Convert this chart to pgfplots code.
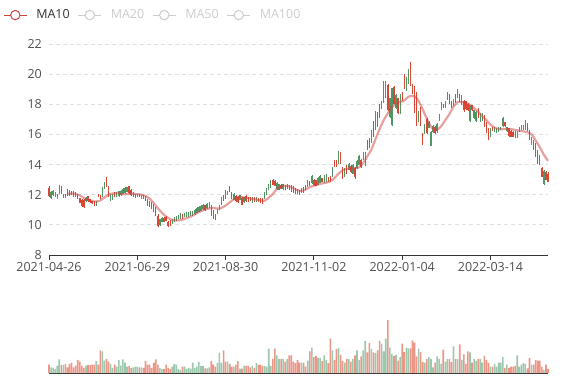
\documentclass[border=0pt]{standalone}
\usepackage{pgfplots}
\usepackage{pgfplotstable}
\pgfplotsset{compat=1.18}
\usepackage{fontspec}
\setmainfont{Open Sans}
\definecolor{upc}{RGB}{218,70,52}
\definecolor{dnc}{RGB}{80,150,100}
\definecolor{vupc}{RGB}{236,150,136}
\definecolor{vdnc}{RGB}{158,200,174}
\definecolor{mac}{RGB}{205,65,65}
\definecolor{gridc}{RGB}{224,224,224}
\definecolor{axisc}{RGB}{51,51,51}
\definecolor{labc}{RGB}{80,80,80}
\definecolor{offc}{RGB}{204,204,204}
\pgfplotstableread{
i o c l h v
0 11.90 12.45 11.82 12.55 25
1 12.20 11.78 11.70 12.26 17
2 12.25 11.97 11.92 12.31 15
3 12.12 11.90 11.85 12.18 12
4 12.00 11.75 11.70 12.05 22
5 12.55 12.10 12.05 12.62 40
6 12.10 12.50 12.05 12.60 24
7 12.00 11.85 11.80 12.05 24
8 11.82 12.00 11.78 12.05 27
9 11.95 12.30 11.90 12.35 17
10 11.95 12.25 11.92 12.30 27
11 11.98 12.22 11.95 12.26 31
12 11.92 12.20 11.88 12.25 17
13 11.85 12.15 11.82 12.18 22
14 11.75 11.98 11.72 12.03 39
15 11.45 11.75 11.42 11.80 34
16 11.25 11.65 11.18 11.70 22
17 11.18 11.65 11.12 11.70 15
18 11.78 11.55 11.50 11.82 22
19 11.55 11.90 11.52 11.93 24
20 11.52 11.70 11.48 11.72 24
21 11.42 11.58 11.38 11.60 25
22 11.30 11.55 11.27 11.60 25
23 11.55 11.32 11.27 11.56 35
24 11.85 12.05 11.82 12.08 25
25 11.75 11.95 11.72 12.00 67
26 12.45 11.85 11.82 12.50 64
27 12.78 12.40 12.38 12.82 37
28 12.55 13.10 12.50 13.20 42
29 11.95 12.55 11.88 12.60 34
30 12.00 11.65 11.60 12.04 27
31 12.05 11.68 11.64 12.08 15
32 11.85 12.10 11.82 12.15 25
33 12.15 11.85 11.82 12.20 19
34 12.22 11.90 11.87 12.26 39
35 12.25 11.95 11.93 12.30 22
36 12.40 12.08 12.04 12.44 40
37 12.45 12.12 12.08 12.49 31
38 12.48 12.18 12.15 12.53 19
39 12.10 12.55 12.04 12.60 21
40 11.98 12.32 11.93 12.38 15
41 12.10 11.86 11.82 12.15 17
42 12.05 11.82 11.78 12.08 19
43 12.05 11.90 11.87 12.08 19
44 11.85 12.02 11.82 12.04 17
45 11.98 11.75 11.72 12.00 17
46 11.76 11.95 11.72 11.98 15
47 11.65 11.90 11.60 11.93 36
48 11.30 11.65 11.27 11.71 25
49 11.20 11.55 11.16 11.60 25
50 11.08 11.42 11.05 11.49 15
51 10.88 11.30 10.83 11.38 30
52 10.65 11.08 10.61 11.16 40
53 9.95 10.60 9.88 10.72 25
54 10.38 10.00 9.95 10.40 15
55 10.48 10.22 10.17 10.50 12
56 10.18 10.45 10.17 10.55 12
57 10.28 10.52 10.26 10.61 25
58 9.90 10.22 9.84 10.28 15
59 9.98 10.25 9.95 10.32 12
60 10.30 10.08 10.06 10.39 19
61 10.45 10.20 10.17 10.50 27
62 10.55 10.30 10.28 10.61 25
63 10.60 10.40 10.39 10.68 12
64 10.68 10.42 10.39 10.76 9
65 10.42 10.65 10.39 10.72 19
66 10.72 10.52 10.50 10.76 19
67 10.78 10.55 10.50 10.83 12
68 10.78 10.58 10.54 10.83 15
69 10.88 10.62 10.59 10.94 13
70 10.90 10.66 10.61 10.94 31
71 11.00 10.72 10.68 11.05 15
72 11.10 10.80 10.77 11.16 19
73 11.20 10.87 10.83 11.27 33
74 11.25 10.95 10.90 11.30 21
75 11.35 11.05 11.00 11.40 21
76 11.00 11.30 10.95 11.35 14
77 11.40 11.10 11.05 11.45 14
78 11.45 11.15 11.10 11.50 17
79 10.95 11.25 10.62 11.30 35
80 10.50 10.95 10.40 11.00 25
81 10.35 10.70 10.29 10.73 19
82 11.00 10.80 10.75 11.05 30
83 11.30 11.00 10.96 11.33 60
84 11.80 11.35 11.29 11.84 30
85 11.60 11.90 11.55 11.95 67
86 11.80 12.25 11.73 12.29 34
87 12.22 12.02 12.00 12.25 34
88 12.20 12.55 12.18 12.58 27
89 11.75 12.15 11.73 12.20 19
90 12.05 11.65 11.62 12.10 19
91 11.55 11.90 11.51 11.95 25
92 11.50 11.85 11.45 11.90 35
93 11.95 11.65 11.62 11.98 13
94 11.35 11.80 11.29 11.84 13
95 11.85 11.50 11.47 11.88 22
96 11.55 11.90 11.51 11.95 22
97 11.55 11.85 11.51 11.88 21
98 11.60 11.85 11.56 11.88 17
99 11.80 11.50 11.47 11.84 22
100 11.55 11.80 11.51 11.84 15
101 11.82 11.55 11.51 11.84 29
102 11.55 11.75 11.51 11.78 25
103 11.50 11.75 11.47 11.78 25
104 11.42 11.75 11.40 11.78 21
105 12.15 11.75 11.73 12.18 21
106 12.40 12.00 11.96 12.42 19
107 12.70 12.30 12.29 12.73 72
108 12.90 12.50 12.47 12.95 21
109 12.65 12.98 12.62 13.02 42
110 12.60 12.90 12.55 12.95 72
111 12.80 12.35 12.30 12.84 52
112 12.70 12.32 12.29 12.73 42
113 12.40 12.65 12.37 12.69 42
114 12.70 12.35 12.33 12.73 42
115 12.35 12.62 12.33 12.65 34
116 12.70 12.40 12.37 12.73 42
117 12.30 12.60 12.29 12.65 52
118 12.25 12.55 12.20 12.62 52
119 12.15 12.50 12.10 12.55 34
120 12.10 12.40 12.08 12.45 29
121 12.05 12.35 12.02 12.40 39
122 12.02 12.28 12.00 12.30 31
123 12.40 12.15 12.10 12.42 31
124 12.15 12.45 12.10 12.50 31
125 12.30 12.60 12.28 12.62 19
126 12.95 12.55 12.51 12.96 37
127 12.60 12.85 12.57 12.90 64
128 13.25 12.80 12.73 13.29 75
129 12.65 13.00 12.60 13.05 47
130 12.60 12.95 12.55 12.98 51
131 13.10 12.65 12.62 13.15 45
132 13.25 12.80 12.75 13.30 45
133 12.85 13.10 12.82 13.12 35
134 13.25 12.85 12.80 13.30 52
135 13.30 12.90 12.86 13.35 39
136 12.90 13.15 12.86 13.18 29
137 12.85 13.20 12.82 13.22 102
138 13.80 13.25 13.18 13.84 67
139 13.85 14.25 13.84 14.33 39
140 13.90 14.25 13.84 14.30 71
141 14.85 14.15 14.07 14.91 74
142 14.10 14.75 14.05 14.83 54
143 13.10 13.80 13.07 13.84 35
144 13.75 13.20 13.16 13.80 31
145 13.40 13.90 13.38 14.00 42
146 14.05 13.65 13.62 14.11 42
147 13.50 13.90 13.47 13.95 34
148 14.00 13.40 13.38 14.07 42
149 13.20 13.80 13.07 13.84 52
150 14.25 13.75 13.70 14.30 67
151 14.55 14.00 13.96 14.62 39
152 13.85 14.30 13.80 14.35 49
153 14.80 14.30 14.29 14.84 67
154 14.80 13.95 13.90 14.84 95
155 15.00 15.55 14.96 15.62 61
156 15.10 15.70 15.07 15.75 89
157 16.20 15.45 15.40 16.30 71
158 15.90 16.80 15.85 16.90 61
159 17.50 16.50 16.30 17.56 59
160 16.60 17.40 16.50 17.50 67
161 17.10 17.95 17.10 18.00 95
162 18.20 17.75 17.70 18.20 87
163 19.50 18.15 18.10 19.55 64
164 19.50 18.50 18.45 19.55 102
165 17.60 19.25 17.56 19.33 157
166 18.40 17.15 17.10 18.44 75
167 19.05 16.60 16.55 19.10 57
168 18.05 19.15 18.00 19.22 50
169 18.60 17.75 17.70 18.65 54
170 17.40 18.40 17.33 18.44 37
171 18.60 17.35 17.33 18.65 47
172 18.20 18.75 18.20 18.80 87
173 19.05 19.95 19.00 20.00 62
174 19.75 18.90 18.88 19.80 75
175 20.30 19.40 19.33 20.33 73
176 19.30 20.70 19.22 20.78 73
177 18.70 19.30 18.67 19.33 97
178 17.50 19.15 17.44 19.22 90
179 16.60 18.70 16.55 18.80 49
180 17.50 16.90 16.85 17.56 72
181 16.60 17.70 16.55 17.80 62
182 15.40 16.05 15.33 16.10 33
183 16.60 16.05 16.00 16.67 31
184 16.10 17.05 16.00 17.10 42
185 16.85 16.45 16.40 16.90 47
186 16.15 15.25 15.20 16.20 42
187 16.55 16.15 16.10 16.60 17
188 16.10 16.50 16.00 16.55 31
189 16.70 16.20 16.10 16.75 49
190 17.30 16.95 16.90 17.33 42
191 18.10 17.70 17.65 18.12 27
192 17.80 18.00 17.75 18.05 69
193 18.20 17.80 17.75 18.22 34
194 18.75 18.35 18.30 18.80 42
195 18.10 18.60 18.05 18.65 42
196 17.80 18.15 17.75 18.20 32
197 18.30 17.95 17.90 18.33 79
198 18.20 18.65 18.10 18.70 42
199 18.95 18.50 18.45 19.00 42
200 18.20 18.60 18.15 18.67 85
201 18.60 18.00 17.96 18.62 39
202 17.60 18.20 17.50 18.29 55
203 17.70 18.20 17.60 18.25 27
204 17.60 18.00 17.55 18.10 64
205 17.95 16.90 16.84 17.96 61
206 17.60 17.95 17.55 17.98 31
207 17.60 17.10 17.05 17.65 42
208 17.50 16.90 16.84 17.55 36
209 17.15 17.70 17.10 17.75 42
210 17.35 16.85 16.84 17.40 42
211 17.35 16.95 16.90 17.40 31
212 16.55 17.25 16.50 17.30 51
213 16.10 16.80 16.07 16.84 39
214 15.65 16.35 15.60 16.40 31
215 16.35 15.85 15.80 16.40 19
216 16.30 16.50 16.25 16.52 19
217 16.50 16.20 16.18 16.52 27
218 16.40 16.10 16.07 16.42 19
219 16.45 16.20 16.18 16.47 31
220 16.50 16.30 16.29 16.52 31
221 17.10 16.55 16.50 17.13 47
222 16.55 16.80 16.50 16.84 15
223 16.50 16.20 16.18 16.52 25
224 15.90 16.40 15.84 16.45 15
225 15.85 16.25 15.84 16.30 19
226 15.85 16.15 15.84 16.20 19
227 15.75 16.10 15.73 16.20 21
228 16.20 15.80 15.73 16.20 52
229 16.45 16.20 16.18 16.50 19
230 16.55 16.30 16.29 16.60 25
231 16.60 16.30 16.29 16.62 29
232 16.90 16.35 16.29 16.96 27
233 16.25 16.70 16.20 16.75 14
234 15.65 16.20 15.62 16.29 45
235 15.80 15.35 15.29 15.84 25
236 15.00 15.50 14.95 15.60 25
237 14.55 15.35 14.50 15.40 38
238 14.10 14.90 14.05 14.95 37
239 14.00 14.55 13.96 14.62 37
240 13.20 13.75 13.18 13.84 19
241 13.55 12.70 12.62 13.62 10
242 13.00 13.50 12.95 13.55 25
243 12.85 13.40 12.84 13.50 12
}\candles
\pgfplotstableread{
i m
9 12.05
12 12.08
15 11.95
18 11.72
21 11.58
23 11.55
25 11.62
27 11.82
29 12.00
31 12.08
33 12.12
35 12.05
37 12.02
39 12.08
41 12.06
43 12.04
45 12.00
47 11.92
49 11.74
51 11.45
53 11.10
55 10.80
57 10.55
59 10.38
61 10.30
63 10.30
65 10.35
67 10.45
69 10.55
71 10.70
73 10.85
75 10.97
77 11.05
79 11.12
81 11.10
83 11.08
85 11.20
87 11.38
89 11.60
91 11.78
93 11.85
95 11.82
97 11.78
99 11.73
101 11.68
103 11.63
105 11.60
107 11.80
109 12.05
111 12.40
113 12.55
115 12.60
117 12.55
119 12.42
121 12.30
123 12.25
125 12.35
127 12.50
129 12.60
131 12.68
133 12.75
135 12.80
137 12.90
139 13.10
141 13.40
143 13.62
145 13.70
147 13.73
149 13.77
151 13.82
153 14.10
155 14.55
157 15.00
159 15.70
161 16.35
163 16.95
165 17.40
167 17.80
169 18.05
171 18.15
173 18.25
175 18.50
177 18.55
179 18.42
181 17.95
183 17.35
185 16.75
187 16.35
189 16.30
191 16.55
193 16.95
195 17.35
197 17.85
199 18.15
201 18.15
203 18.10
205 17.95
207 17.75
209 17.50
211 17.20
213 16.95
215 16.65
217 16.45
219 16.35
221 16.35
223 16.38
225 16.35
227 16.30
229 16.25
231 16.20
233 16.15
235 16.00
237 15.60
239 15.15
241 14.65
243 14.25
}\madata
\begin{document}
\begin{tikzpicture}
\useasboundingbox (0,0) rectangle (577pt,380pt);
\begin{axis}[
  at={(49pt,125pt)}, anchor=south west, scale only axis,
  width=499pt, height=211pt,
  xmin=0, xmax=243, ymin=8, ymax=22,
  ytick={8,10,...,22},
  xtick={0,43,86,129,172,215},
  xticklabels={2021-04-26,2021-06-29,2021-08-30,2021-11-02,2022-01-04,2022-03-14},
  axis x line*=bottom, axis y line*=left,
  y axis line style={draw=none},
  x axis line style={draw=axisc, line width=1pt},
  xtick style={draw=axisc, line width=1pt},
  ytick style={draw=none},
  major tick length=5pt, tick align=outside,
  ymajorgrids, grid style={gridc, line width=0.8pt, dash pattern=on 4pt off 3pt},
  tick label style={font=\fontsize{12.5}{15}\selectfont, text=labc},
  /pgf/number format/assume math mode=true,
  yticklabel style={anchor=east, inner sep=0pt, xshift=-2pt},
  xticklabel style={anchor=north, inner sep=0pt, yshift=-2pt},
  clip=false,
  restrict y to domain=0:1000,
  legend columns=4,
  legend style={at={(-0.092,1.137)}, anchor=west, draw=none, fill=none,
    inner sep=0pt, font=\fontsize{12.5}{15}\selectfont,
    nodes={inner sep=0pt, text=axisc},
    /tikz/every even column/.append style={column sep=8pt}},
  legend image code/.code={
    \draw[line width=1pt] (0pt,0pt) -- (23pt,0pt);
    \draw[line width=1pt, fill=white] (11.5pt,0pt) circle (4.7pt);},
]
% wicks
\addplot[forget plot, upc, line width=0.6pt, quiver={u=0, v=\thisrow{h}-\thisrow{l}}]
  table[x=i, y expr={\thisrow{c}>=\thisrow{o} ? \thisrow{l} : -100}] {\candles};
\addplot[forget plot, dnc, line width=0.6pt, quiver={u=0, v=\thisrow{h}-\thisrow{l}}]
  table[x=i, y expr={\thisrow{c}<\thisrow{o} ? \thisrow{l} : -100}] {\candles};
% bodies
\addplot[forget plot, upc, line width=1.3pt, quiver={u=0, v=\thisrow{c}-\thisrow{o}}]
  table[x=i, y expr={\thisrow{c}>=\thisrow{o} ? \thisrow{o} : -100}] {\candles};
\addplot[forget plot, dnc, line width=1.3pt, quiver={u=0, v=\thisrow{o}-\thisrow{c}}]
  table[x=i, y expr={\thisrow{c}<\thisrow{o} ? \thisrow{c} : -100}] {\candles};
% MA10
\addplot[forget plot, smooth, tension=0.4, mark=none, mac, line width=2.2pt, draw opacity=0.5]
  table[x=i, y=m] {\madata};
\addlegendimage{mac}
\addlegendentry{\hspace{9pt}MA10}
\addlegendimage{offc}
\addlegendentry[text=offc]{\hspace{9pt}MA20}
\addlegendimage{offc}
\addlegendentry[text=offc]{\hspace{9pt}MA50}
\addlegendimage{offc}
\addlegendentry[text=offc]{\hspace{9pt}MA100}
\end{axis}
\begin{axis}[
  at={(49pt,7pt)}, anchor=south west, scale only axis,
  width=499pt, height=80pt,
  xmin=0, xmax=243, ymin=0, ymax=237,
  axis x line*=bottom, axis y line=none,
  xtick=\empty, ytick=\empty,
  x axis line style={draw=axisc, line width=1pt},
  clip=false,
  restrict y to domain=0:1000,
]
\addplot[ybar, bar width=1.6pt, bar shift=0pt, fill=vupc, draw=none]
  table[x=i, y expr={\thisrow{c}>=\thisrow{o} ? \thisrow{v} : -100}] {\candles};
\addplot[ybar, bar width=1.6pt, bar shift=0pt, fill=vdnc, draw=none]
  table[x=i, y expr={\thisrow{c}<\thisrow{o} ? \thisrow{v} : -100}] {\candles};
\end{axis}
\end{tikzpicture}
\end{document}
